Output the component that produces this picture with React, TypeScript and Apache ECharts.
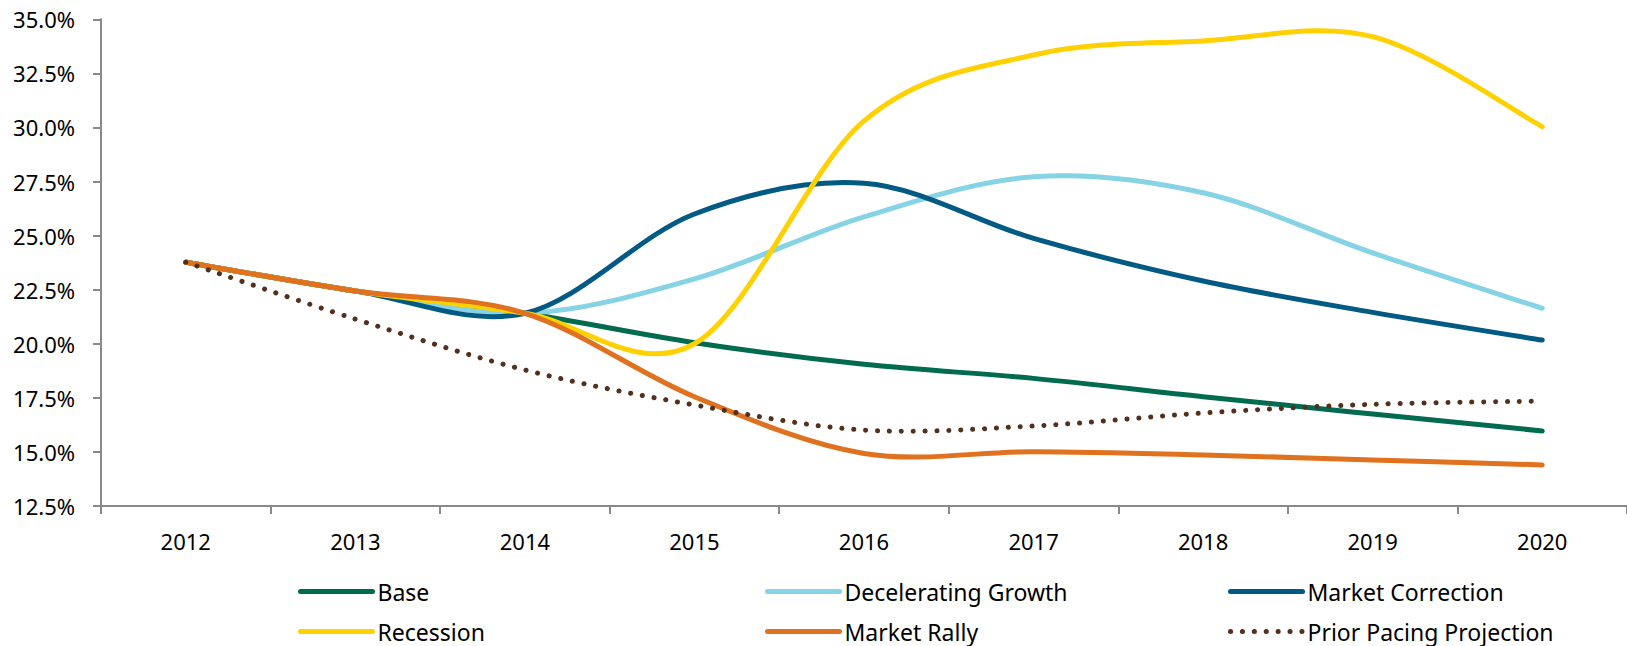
import React, { useEffect, useRef } from "react";
import * as echarts from "echarts";

const years = ["2012", "2013", "2014", "2015", "2016", "2017", "2018", "2019", "2020"];
const baseValues = [23.77, 22.44, 21.41, 20.05, 19.05, 18.4, 17.55, 16.75, 15.97];
const deceleratingValues = [23.77, 22.44, 21.41, 23.0, 25.87, 27.72, 26.98, 24.2, 21.64];
const correctionValues = [23.77, 22.44, 21.41, 26.0, 27.42, 24.87, 22.9, 21.45, 20.17];
const recessionValues = [23.77, 22.44, 21.41, 20.0, 30.3, 33.35, 34.0, 34.2, 30.04];
const rallyValues = [23.77, 22.44, 21.41, 17.55, 14.93, 15.01, 14.86, 14.63, 14.4];
const priorValues = [23.77, 21.14, 18.79, 17.17, 16.01, 16.2, 16.8, 17.2, 17.35];
const yMin = 12.5;
const yMax = 35;
const yStep = 2.5;

const FONT = "'Noto Sans', sans-serif";

const seriesDefs = [
  { name: "Base", values: baseValues, color: "#006B4F", dotted: false },
  { name: "Decelerating Growth", values: deceleratingValues, color: "#85D3E5", dotted: false },
  { name: "Market Correction", values: correctionValues, color: "#005A83", dotted: false },
  { name: "Recession", values: recessionValues, color: "#FFD100", dotted: false },
  { name: "Market Rally", values: rallyValues, color: "#E0711E", dotted: false },
  { name: "Prior Pacing Projection", values: priorValues, color: "#52301E", dotted: true },
];

export default function App() {
  const ref = useRef<HTMLDivElement>(null);
  useEffect(() => {
    document.body.style.margin = "0";
    if (!ref.current) return;
    const chart = echarts.init(ref.current, undefined, { renderer: "svg" });

    // Line series (no data) that only provide the legend icons.
    const legendSeries = seriesDefs.map((s) => ({
      name: s.name,
      type: "line",
      data: [],
      symbol: "none",
      lineStyle: s.dotted
        ? { color: s.color, width: 5, type: [0.1, 11.8], cap: "round" }
        : { color: s.color, width: 5, cap: "round" },
      itemStyle: { color: s.color },
    }));

    // Smoothed curves (Catmull-Rom, like the spreadsheet's smoothed lines).
    const curveSeries = seriesDefs.map((s) => ({
      name: s.name,
      type: "custom",
      data: s.values.map((v, i) => [i, v]),
      silent: true,
      renderItem: (params: any, api: any) => {
        if (params.dataIndex !== 0) return null;
        const pts = s.values.map((v, i) => api.coord([i, v]));
        const n = pts.length;
        let d = `M${pts[0][0]},${pts[0][1]}`;
        for (let i = 0; i < n - 1; i++) {
          const p0 = pts[Math.max(i - 1, 0)];
          const p1 = pts[i];
          const p2 = pts[i + 1];
          const p3 = pts[Math.min(i + 2, n - 1)];
          const c1x = p1[0] + (p2[0] - p0[0]) / 6;
          const c1y = p1[1] + (p2[1] - p0[1]) / 6;
          const c2x = p2[0] - (p3[0] - p1[0]) / 6;
          const c2y = p2[1] - (p3[1] - p1[1]) / 6;
          d += ` C${c1x},${c1y} ${c2x},${c2y} ${p2[0]},${p2[1]}`;
        }
        return {
          type: "path",
          shape: { pathData: d },
          style: {
            fill: "none",
            stroke: s.color,
            lineWidth: 5,
            lineCap: "round",
            lineJoin: "round",
            lineDash: s.dotted ? [0.1, 11.8] : null,
          },
        };
      },
    }));

    const legendCommon = {
      orient: "vertical",
      itemWidth: 72,
      itemHeight: 14,
      itemGap: 17,
      top: 580,
      height: 66,
      padding: 0,
      textStyle: { fontFamily: FONT, fontSize: 23, color: "#000" },
      itemStyle: { opacity: 0 },
      lineStyle: { width: 5, cap: "round", opacity: 1 },
      selectedMode: false,
    };
    chart.setOption({
      animation: false,
      backgroundColor: "#fff",
      grid: { left: 101, right: -10, top: 19.3, bottom: 140, containLabel: false },
      xAxis: {
        type: "category",
        data: years,
        boundaryGap: true,
        axisLine: { lineStyle: { color: "#898989", width: 2 } },
        axisTick: { show: true, length: 8, lineStyle: { color: "#898989", width: 2 } },
        axisLabel: { fontFamily: FONT, fontSize: 22, color: "#000", margin: 24 },
        splitLine: { show: false },
      },
      yAxis: {
        type: "value",
        min: yMin,
        max: yMax,
        interval: yStep,
        axisLine: { show: true, lineStyle: { color: "#898989", width: 2 } },
        axisTick: { show: true, length: 8, lineStyle: { color: "#898989", width: 2 } },
        axisLabel: {
          fontFamily: FONT,
          fontSize: 22,
          color: "#000",
          margin: 26,
          formatter: (v: number) => v.toFixed(1) + "%",
        },
        splitLine: { show: false },
      },
      legend: [
        { ...legendCommon, left: 298, data: ["Base", "Recession"] },
        { ...legendCommon, left: 765, data: ["Decelerating Growth", "Market Rally"] },
        { ...legendCommon, left: 1228, data: ["Market Correction", "Prior Pacing Projection"] },
      ],
      series: [...legendSeries, ...curveSeries],
    });
    return () => chart.dispose();
  }, []);
  return <div ref={ref} style={{ width: 1627, height: 646 }} />;
}
